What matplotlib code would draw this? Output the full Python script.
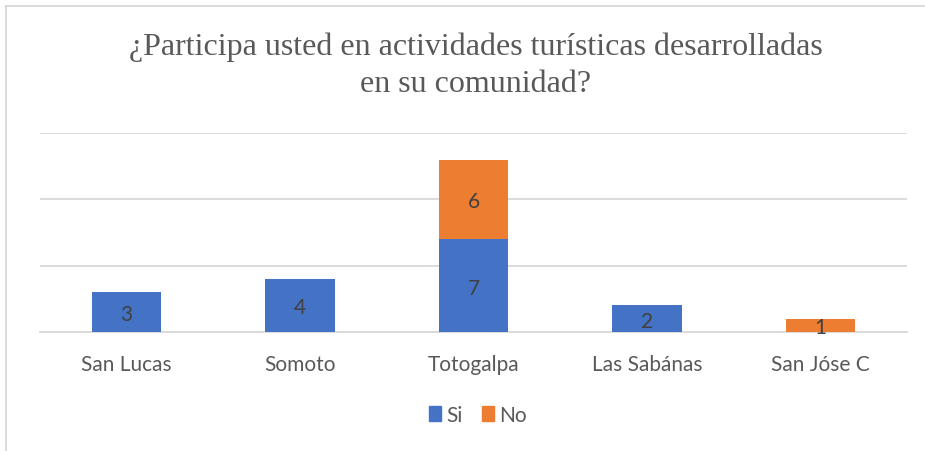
import numpy as np
import matplotlib.pyplot as plt
from matplotlib.lines import Line2D
from matplotlib.patches import Patch

categorias = ["San Lucas", "Somoto", "Totogalpa", "Las Sabánas", "San Jóse C"]
si = [3, 4, 7, 2, 0]
no = [0, 0, 6, 0, 1]

azul = "#4472C4"
naranja = "#ED7D31"
gris = "#595959"
fuente = "Lato"

fig = plt.figure(figsize=(9.25, 4.52), dpi=100)
ax = fig.add_axes([40 / 925, 1 - 333 / 452, 867 / 925, 199 / 452])

x = np.arange(len(categorias))
b1 = ax.bar(x, si, width=0.4, color=azul, zorder=3)
b2 = ax.bar(x, no, width=0.4, bottom=si, color=naranja, zorder=3)

# etiquetas de datos (solo valores distintos de cero)
for barras, vals, base in [(b1, si, [0] * 5), (b2, no, si)]:
    for rect, v, b in zip(barras, vals, base):
        if v > 0:
            ax.text(rect.get_x() + rect.get_width() / 2, b + v / 2 - 0.15, str(v),
                    ha="center", va="center", fontsize=15, color="#404040",
                    family=fuente, zorder=4)

ax.set_xlim(-0.5, len(categorias) - 0.5)
ax.set_ylim(0, 15)
ax.set_yticks([0, 5, 10, 15])
ax.yaxis.grid(True, color="#D9D9D9", linewidth=1.3, zorder=0)
ax.tick_params(axis="y", left=False, labelleft=False)
ax.tick_params(axis="x", length=0, pad=16)
ax.set_xticks(x)
ax.set_xticklabels(categorias, fontsize=15, color=gris, family=fuente)
for s in ["top", "right", "left"]:
    ax.spines[s].set_visible(False)
ax.spines["bottom"].set_color("#D9D9D9")
ax.spines["bottom"].set_linewidth(1.3)

fig.text(476 / 925, 1 - 47 / 452, "¿Participa usted en actividades turísticas desarrolladas",
         ha="center", va="center", fontsize=23, color=gris, family="Liberation Serif")
fig.text(476 / 925, 1 - 84 / 452, "en su comunidad?",
         ha="center", va="center", fontsize=23, color=gris, family="Liberation Serif")

# borde del gráfico
fig.add_artist(Line2D([6 / 925, 6 / 925], [0, 1 - 7 / 452], color="#D9D9D9", linewidth=1.3,
                      transform=fig.transFigure))
fig.add_artist(Line2D([6 / 925, 1], [1 - 7 / 452, 1 - 7 / 452], color="#D9D9D9", linewidth=1.3,
                      transform=fig.transFigure))

handles = [Patch(color=azul, label="Si"), Patch(color=naranja, label="No")]
leg = fig.legend(handles=handles, loc="center", bbox_to_anchor=(478 / 925, 1 - 416 / 452),
                 ncol=2, frameon=False, handlelength=0.6, handleheight=0.75,
                 handletextpad=0.25, columnspacing=0.9,
                 prop={"family": fuente, "size": 15})
for t in leg.get_texts():
    t.set_color(gris)

plt.savefig("out.png", dpi=100)
